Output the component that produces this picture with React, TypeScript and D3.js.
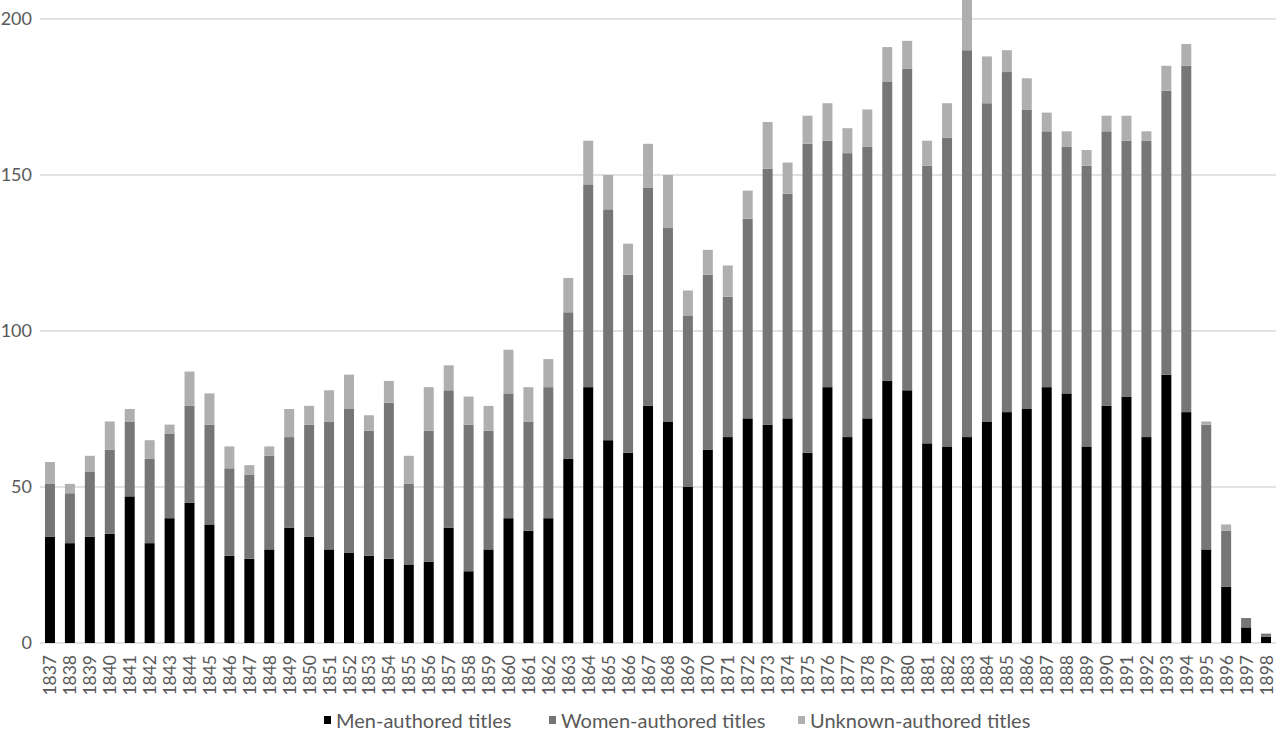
import * as d3 from 'd3'

const years = [
  '1837', '1838', '1839', '1840', '1841', '1842', '1843', '1844', '1845', '1846',
  '1847', '1848', '1849', '1850', '1851', '1852', '1853', '1854', '1855', '1856',
  '1857', '1858', '1859', '1860', '1861', '1862', '1863', '1864', '1865', '1866',
  '1867', '1868', '1869', '1870', '1871', '1872', '1873', '1874', '1875', '1876',
  '1877', '1878', '1879', '1880', '1881', '1882', '1883', '1884', '1885', '1886',
  '1887', '1888', '1889', '1890', '1891', '1892', '1893', '1894', '1895', '1896',
  '1897', '1898',
]

const menTitles = [
  34, 32, 34, 35, 47, 32, 40, 45, 38, 28,
  27, 30, 37, 34, 30, 29, 28, 27, 25, 26,
  37, 23, 30, 40, 36, 40, 59, 82, 65, 61,
  76, 71, 50, 62, 66, 72, 70, 72, 61, 82,
  66, 72, 84, 81, 64, 63, 66, 71, 74, 75,
  82, 80, 63, 76, 79, 66, 86, 74, 30, 18,
  5, 2,
]

const womenTitles = [
  17, 16, 21, 27, 24, 27, 27, 31, 32, 28,
  27, 30, 29, 36, 41, 46, 40, 50, 26, 42,
  44, 47, 38, 40, 35, 42, 47, 65, 74, 57,
  70, 62, 55, 56, 45, 64, 82, 72, 99, 79,
  91, 87, 96, 103, 89, 99, 124, 102, 109, 96,
  82, 79, 90, 88, 82, 95, 91, 111, 40, 18,
  3, 1,
]

const unknownTitles = [
  7, 3, 5, 9, 4, 6, 3, 11, 10, 7,
  3, 3, 9, 6, 10, 11, 5, 7, 9, 14,
  8, 9, 8, 14, 11, 9, 11, 14, 11, 10,
  14, 17, 8, 8, 10, 9, 15, 10, 9, 12,
  8, 12, 11, 9, 8, 11, 17, 15, 7, 10,
  6, 5, 5, 5, 8, 3, 8, 7, 1, 2,
  0, 0,
]

const yTicks = [0, 50, 100, 150, 200]
const seriesKeys = ['men', 'women', 'unknown']
const seriesNames = ['Men-authored titles', 'Women-authored titles', 'Unknown-authored titles']
const seriesColors = ['#000000', '#767676', '#afafaf']

const W = 1276
const H = 735
const FONT = 'Lato, "Open Sans", sans-serif'
const TEXT = '#595959'
const GRID = '#d9d9d9'

export default function App() {
  const x = d3.scaleBand<string>()
    .domain(years)
    .range([40, W])
    .paddingInner(0.5)
    .paddingOuter(0.25)

  const y = d3.scaleLinear().domain([0, 200]).range([643, 19])

  const rows = years.map((yr, i) => ({
    year: yr,
    men: menTitles[i],
    women: womenTitles[i],
    unknown: unknownTitles[i],
  }))
  const stacked = d3.stack<any>().keys(seriesKeys)(rows)

  // legend item positions (marker x)
  const legendX = [324, 549, 798]
  const legendY = 720

  return (
    <svg
      width={W}
      height={H}
      style={{ position: 'absolute', left: 0, top: 0, background: '#fff' }}
      fontFamily={FONT}
    >
      {/* gridlines */}
      {yTicks.map(t => (
        <g key={t}>
          <line x1={40} x2={W} y1={y(t)} y2={y(t)} stroke={GRID} strokeWidth={1.5} />
          <text
            x={32}
            y={y(t) - 1}
            textAnchor="end"
            dominantBaseline="central"
            fontSize={18}
            fill={TEXT}
          >
            {t}
          </text>
        </g>
      ))}

      {/* bars */}
      {stacked.map((s, si) => (
        <g key={s.key} fill={seriesColors[si]}>
          {s.map((d, i) => {
            const h = y(d[0]) - y(d[1])
            if (h <= 0) return null
            return (
              <rect
                key={years[i]}
                x={x(years[i])}
                y={y(d[1])}
                width={x.bandwidth()}
                height={h}
              />
            )
          })}
        </g>
      ))}

      {/* x labels */}
      {years.map(yr => (
        <text
          key={yr}
          transform={`translate(${(x(yr) ?? 0) + x.bandwidth() / 2},655) rotate(-90)`}
          textAnchor="end"
          dominantBaseline="central"
          fontSize={17.5}
          fill={TEXT}
        >
          {yr}
        </text>
      ))}

      {/* legend */}
      {seriesNames.map((name, i) => (
        <g key={name}>
          <rect x={legendX[i]} y={legendY - 4} width={7} height={8} fill={seriesColors[i]} />
          <text
            x={legendX[i] + 12}
            y={legendY}
            dominantBaseline="central"
            fontSize={20}
            fill={TEXT}
          >
            {name}
          </text>
        </g>
      ))}
    </svg>
  )
}
